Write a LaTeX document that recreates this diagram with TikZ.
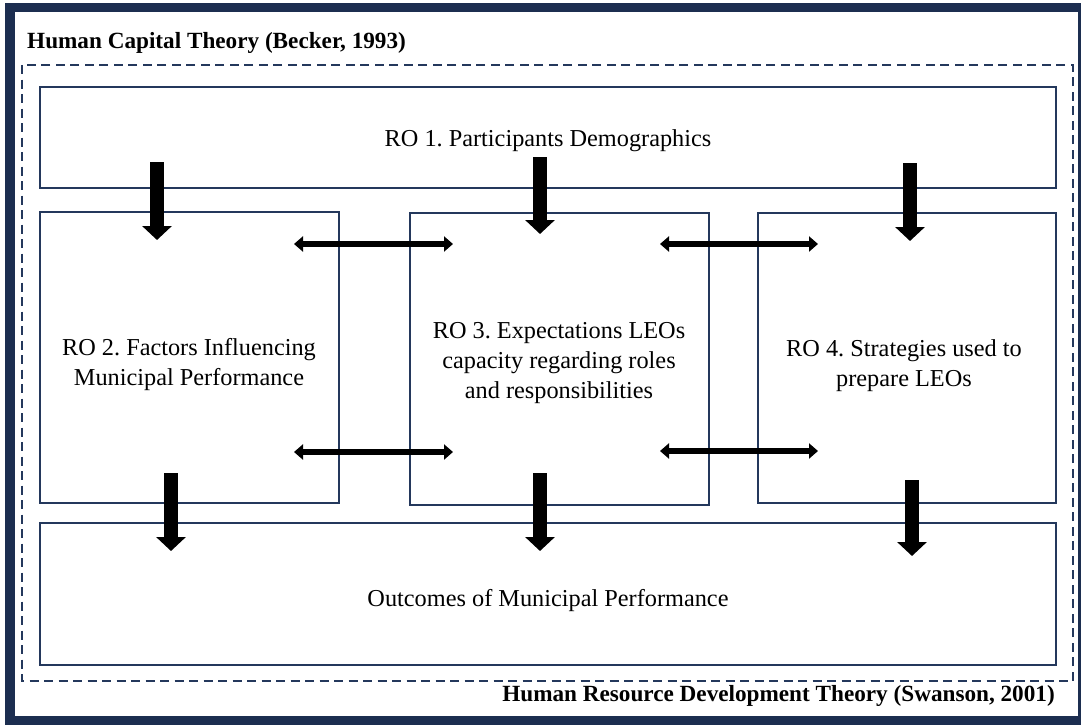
\documentclass[tikz,border=0pt]{standalone}
\usepackage{fontspec}
\setmainfont{Liberation Serif}
\usetikzlibrary{arrows.meta}
\definecolor{framenavy}{HTML}{1C2E50}
\definecolor{boxnavy}{HTML}{24385C}
\tikzset{
  rbox/.style={draw=boxnavy, line width=1.5pt},
  dashbox/.style={draw=boxnavy, line width=1.5pt, dash pattern=on 9pt off 5.5pt},
  txt/.style={font=\fontsize{24.3}{30}\selectfont\frenchspacing, align=center, inner sep=0pt},
  ttl/.style={font=\fontsize{23.2}{25}\selectfont\bfseries\frenchspacing, inner sep=0pt},
  blockarrow/.style={line width=14pt, -{Triangle[width=29pt,length=14pt]}},
  dblarrow/.style={line width=5.5pt, {Triangle[width=15pt,length=9pt]}-{Triangle[width=15pt,length=9pt]}},
}
\begin{document}
\begin{tikzpicture}[x=1pt,y=-1pt]
\useasboundingbox (0,0) rectangle (1081,725);
% frame
\fill[framenavy] (5,3) rectangle (1081,725);
\fill[white] (15,12) rectangle (1078,716);
% dashed area
\draw[dashbox] (22,65) rectangle (1073,681);
% boxes
\draw[rbox] (40,87) rectangle (1056,188);
\draw[rbox] (40,212) rectangle (339,503);
\draw[rbox] (410,213) rectangle (709,505);
\draw[rbox] (758,213) rectangle (1056,503);
\draw[rbox] (40,523) rectangle (1056,665);
% texts
\node[ttl, anchor=west] (t1) at (27,43) {Human Capital Theory (Becker, 1993)};
\node[ttl, anchor=east] (t2) at (1055,696) {Human Resource Development Theory (Swanson, 2001)};
\node[txt] (ro1) at (548,141) {RO 1. Participants Demographics};
\node[txt] (ro2) at (189,365) {RO 2. Factors Influencing\\Municipal Performance};
\node[txt] (ro3) at (559,363) {RO 3. Expectations LEOs\\capacity regarding roles\\and responsibilities};
\node[txt] (ro4) at (904,366) {RO 4. Strategies used to\\prepare LEOs};
\node[txt] (out) at (548,601) {Outcomes of Municipal Performance};
% arrow end coordinates
\coordinate (a1s) at (157,162); \coordinate (a1e) at (157,240);
\coordinate (a2s) at (540,157); \coordinate (a2e) at (540,234);
\coordinate (a3s) at (910,163); \coordinate (a3e) at (910,241);
\coordinate (b1s) at (171,473); \coordinate (b1e) at (171,551);
\coordinate (b2s) at (540,473); \coordinate (b2e) at (540,551);
\coordinate (b3s) at (912,480); \coordinate (b3e) at (912,556);
\coordinate (h1s) at (294,244); \coordinate (h1e) at (453,244);
\coordinate (h2s) at (660,244); \coordinate (h2e) at (818,244);
\coordinate (h3s) at (294,452); \coordinate (h3e) at (453,452);
\coordinate (h4s) at (660,451); \coordinate (h4e) at (818,451);
% arrows
\draw[blockarrow] (a1s) -- (a1e);
\draw[blockarrow] (a2s) -- (a2e);
\draw[blockarrow] (a3s) -- (a3e);
\draw[blockarrow] (b1s) -- (b1e);
\draw[blockarrow] (b2s) -- (b2e);
\draw[blockarrow] (b3s) -- (b3e);
\draw[dblarrow] (h1s) -- (h1e);
\draw[dblarrow] (h2s) -- (h2e);
\draw[dblarrow] (h3s) -- (h3e);
\draw[dblarrow] (h4s) -- (h4e);
\end{tikzpicture}
\end{document}
